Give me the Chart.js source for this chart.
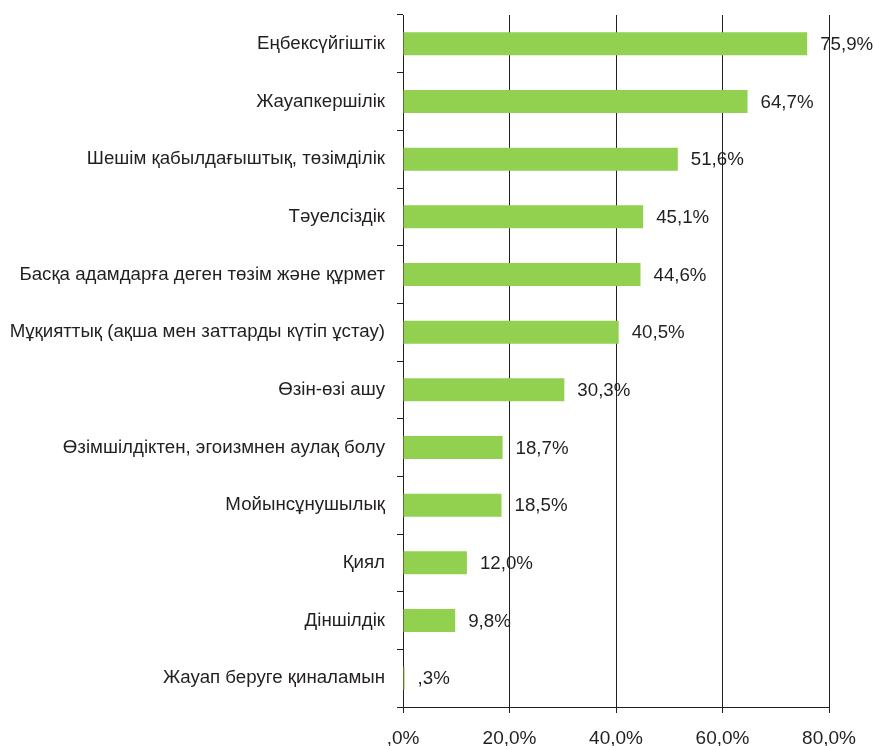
<!DOCTYPE html>
<html><head><meta charset="utf-8">
<script src="https://cdn.jsdelivr.net/npm/chart.js@4"></script>
<style>html,body{margin:0;padding:0;background:#fff;}canvas{display:block;}</style>
</head><body>
<canvas id="c" width="873" height="746"></canvas>
<script>
const categories = [
  "Еңбексүйгіштік",
  "Жауапкершілік",
  "Шешім қабылдағыштық, төзімділік",
  "Тәуелсіздік",
  "Басқа адамдарға деген төзім және құрмет",
  "Мұқияттық (ақша мен заттарды күтіп ұстау)",
  "Өзін-өзі ашу",
  "Өзімшілдіктен, эгоизмнен аулақ болу",
  "Мойынсұнушылық",
  "Қиял",
  "Діншілдік",
  "Жауап беруге қиналамын"
];
const values = [75.9, 64.7, 51.6, 45.1, 44.6, 40.5, 30.3, 18.7, 18.5, 12.0, 9.8, 0.3];
const xTicks = [0, 20, 40, 60, 80];

function fmt(v){
  let s = v.toFixed(1).replace('.', ',');
  if (s.startsWith('0,')) s = s.slice(1);
  return s + '%';
}

const TEXT = '#231f20';
const FAM = "'Liberation Sans', Arial, sans-serif";
Chart.defaults.font.family = FAM;
Chart.defaults.font.size = 18.7;
Chart.defaults.color = TEXT;

const labelPlugin = {
  id: 'valLabels',
  afterDatasetsDraw(chart){
    const ctx = chart.ctx;
    const meta = chart.getDatasetMeta(0);
    ctx.save();
    ctx.font = "18.7px " + FAM;
    ctx.fillStyle = TEXT;
    ctx.textBaseline = 'middle';
    ctx.textAlign = 'left';
    meta.data.forEach((bar, i) => {
      ctx.fillText(fmt(values[i]), bar.x + 13, bar.y + 1);
    });
    ctx.restore();
  }
};

new Chart(document.getElementById('c'), {
  type: 'bar',
  data: {
    labels: categories,
    datasets: [{
      data: values,
      backgroundColor: '#92d050',
      borderWidth: 0,
      barPercentage: 0.8,
      categoryPercentage: 0.5
    }]
  },
  options: {
    indexAxis: 'y',
    responsive: false,
    animation: false,
    layout: { padding: { top: 15, right: 44, bottom: 0, left: 0 } },
    plugins: { legend: { display: false }, tooltip: { enabled: false } },
    scales: {
      x: {
        min: 0, max: 80,
        afterBuildTicks(scale){ scale.ticks = xTicks.map(v => ({ value: v })); },
        afterFit(scale){ scale.height = 39; },
        ticks: {
          callback: (v) => fmt(v),
          padding: 14,
          color: TEXT,
          maxRotation: 0,
          font: { size: 19 }
        },
        grid: { color: '#231f20', lineWidth: 1, drawTicks: true, tickLength: 6, tickColor: '#231f20' },
        border: { display: true, color: '#231f20', width: 1 }
      },
      y: {
        afterFit(scale){ scale.width = 403; scale.paddingTop = 0; scale.paddingBottom = 0; },
        ticks: { padding: 12, color: TEXT, autoSkip: false },
        grid: { offset: true, drawOnChartArea: false, drawTicks: true, tickLength: 6, color: '#231f20', tickColor: '#231f20' },
        border: { display: true, color: '#231f20', width: 1 }
      }
    }
  },
  plugins: [labelPlugin]
});
</script>
</body></html>
